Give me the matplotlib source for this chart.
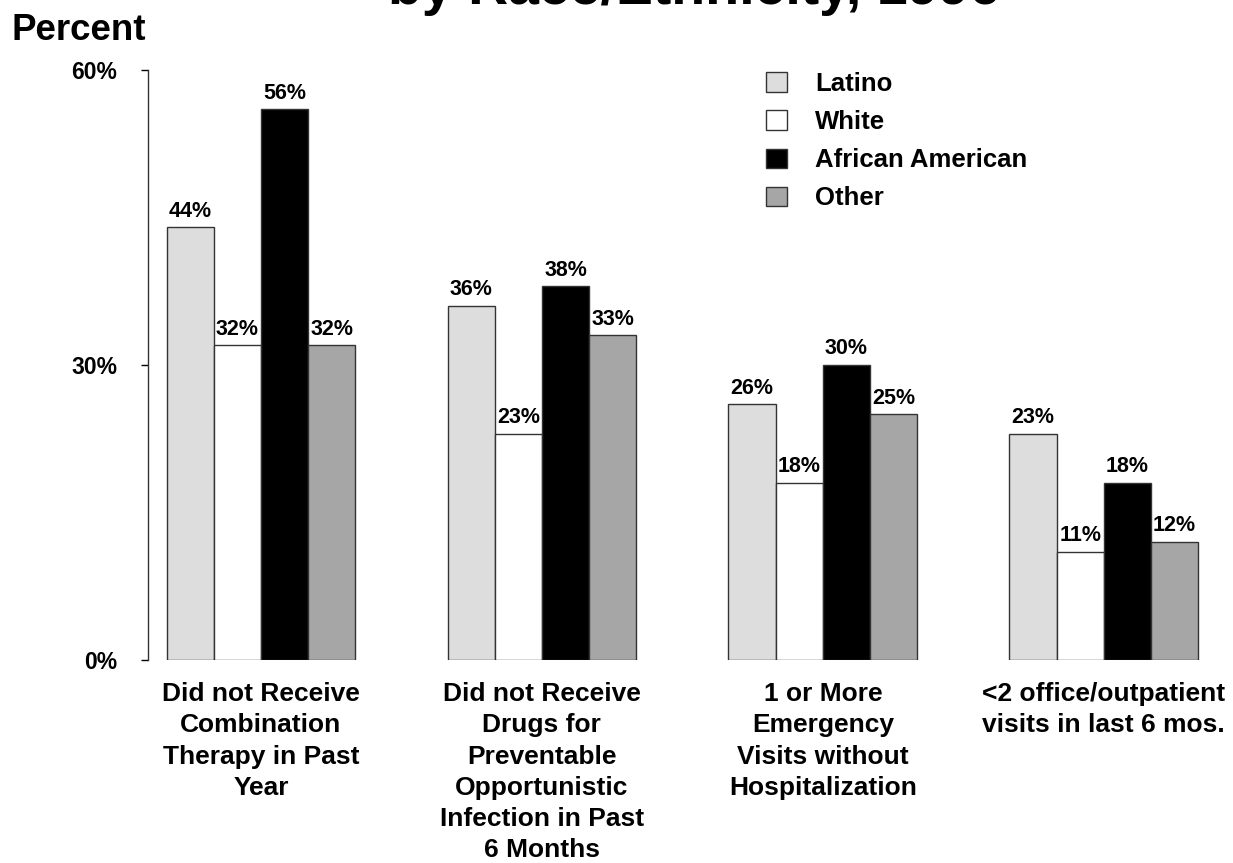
import matplotlib
matplotlib.use("Agg")
import matplotlib.pyplot as plt
import numpy as np

plt.rcParams['font.family'] = ['Liberation Sans', 'DejaVu Sans']
plt.rcParams['font.weight'] = 'bold'

categories = [
    "Did not Receive\nCombination\nTherapy in Past\nYear",
    "Did not Receive\nDrugs for\nPreventable\nOpportunistic\nInfection in Past\n6 Months",
    "1 or More\nEmergency\nVisits without\nHospitalization",
    "<2 office/outpatient\nvisits in last 6 mos.",
]
series_names = ["Latino", "White", "African American", "Other"]
latino = [44, 36, 26, 23]
white = [32, 23, 18, 11]
african_american = [56, 38, 30, 18]
other = [32, 33, 25, 12]
series_values = [latino, white, african_american, other]
colors = ["#dddddd", "#ffffff", "#000000", "#a6a6a6"]
ytick_vals = [0, 30, 60]
ytick_labels = ["0%", "30%", "60%"]

W, H = 1233, 863
fig = plt.figure(figsize=(W / 100, H / 100), dpi=100)
ax_left, ax_right = 148, 1205
ax_top, ax_bot = 70, 660
ax = fig.add_axes([ax_left / W, 1 - ax_bot / H, (ax_right - ax_left) / W, (ax_bot - ax_top) / H])

x = np.arange(len(categories))
bw = 0.168
offsets = np.array([-1.5, -0.5, 0.5, 1.5]) * bw
for i, (name, vals) in enumerate(zip(series_names, series_values)):
    b = ax.bar(x + offsets[i], vals, width=bw, color=colors[i], edgecolor="#333333",
               linewidth=1.0, label=name, zorder=2)
    ax.bar_label(b, labels=[f"{v}%" for v in vals], padding=4, fontsize=15.5,
                 fontweight='bold')

ax.set_ylim(0, 60)
ax.set_xlim(-0.402, 3.36)
ax.set_yticks(ytick_vals)
ax.set_yticklabels(ytick_labels)
ax.tick_params(axis='y', direction='out', length=5, width=1, pad=17, colors='black',
               labelsize=16.5)
for t in ax.get_yticklabels():
    t.set_fontweight('bold')
ax.set_xticks(x)
ax.set_xticklabels(categories, fontweight='bold', linespacing=1.38)
ax.tick_params(axis='x', length=0, pad=16, labelsize=19)
for s in ['top', 'right', 'bottom']:
    ax.spines[s].set_visible(False)
ax.spines['left'].set_linewidth(1.0)
ax.spines['left'].set_color('#333333')

leg = ax.legend(loc='upper left', bbox_to_anchor=(766 / W, 1 - 72 / H),
                bbox_transform=fig.transFigure, frameon=False, fontsize=18.5,
                handlelength=0.8, handleheight=0.8, handletextpad=1.1,
                labelspacing=0.55, borderpad=0, borderaxespad=0)
for t in leg.get_texts():
    t.set_fontweight('bold')

fig.text(12 / W, 1 - 40 / H, "Percent", fontsize=26.5, fontweight='bold',
         ha='left', va='baseline')
fig.text(694 / W, 1 - 4 / H, "by Race/Ethnicity, 1996", fontsize=40,
         fontweight='bold', ha='center', va='baseline')

fig.savefig("out.png", dpi=100)
